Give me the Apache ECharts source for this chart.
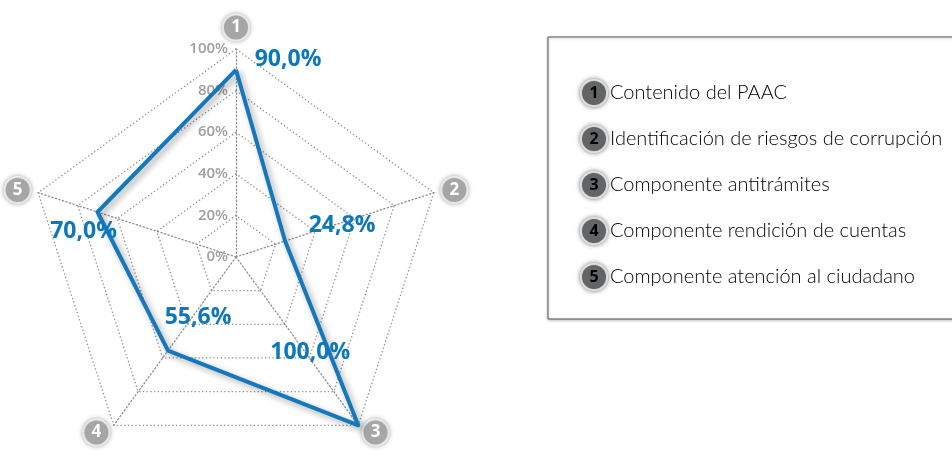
<!DOCTYPE html>
<html>
<head>
<meta charset="utf-8">
<script src="https://cdn.jsdelivr.net/npm/echarts@6/dist/echarts.min.js"></script>
<style>
  html, body { margin: 0; padding: 0; background: #fff; }
  #chart { width: 952px; height: 465px; }
</style>
</head>
<body>
<div id="chart"></div>
<script>
// Components of the plan, their badge numbers and compliance (%)
const categories = [
  'Contenido del PAAC',
  'Identificación de riesgos de corrupción',
  'Componente antitrámites',
  'Componente rendición de cuentas',
  'Componente atención al ciudadano'
];
const badges = ['1', '2', '3', '4', '5'];
const values = [90.0, 24.8, 100.0, 55.6, 70.0];
const axisMin = 0;
const axisMax = 100;
const axisSplits = 5;

// radar lays indicators out counter-clockwise; walk the list so 1..5 read clockwise
const order = [0, 4, 3, 2, 1];
const radarValues = order.map(i => values[i]);

// label placement for each value, relative to its vertex
const labelOffsets = [[52, -10], [57, -16], [-48, -73], [30, -33], [-14, 19]];

const fmtPct = v => v.toFixed(1).replace('.', ',') + '%';
const blue = '#0b77bd';
const dots = [1.3, 2.4];

const indicator = order.map((i, k) => {
  const ind = { name: badges[i], min: axisMin, max: axisMax };
  if (k === 0) {
    ind.axisLabel = {
      show: true,
      color: '#a0a0a0',
      fontSize: 15,
      fontWeight: 600,
      fontFamily: 'Open Sans',
      formatter: v => v + '%'
    };
  }
  return ind;
});

const chart = echarts.init(document.getElementById('chart'));

const labelItems = categories.map((c, i) => ({
  name: c,
  value: radarValues,
  symbol: 'circle',
  symbolSize: 1,
  itemStyle: { color: 'rgba(0,0,0,0)', borderWidth: 0 },
  lineStyle: { width: 0, opacity: 0 },
  label: {
    show: true,
    position: 'inside',
    offset: labelOffsets[i],
    color: blue,
    fontSize: 23,
    fontWeight: 'bold',
    fontFamily: 'Open Sans',
    formatter: p => (Math.abs(p.value - values[i]) < 1e-9 ? fmtPct(p.value) : '')
  }
}));

const legendTexts = categories.map((c, i) => ({
  type: 'text',
  left: 580,
  top: 79 + i * 46,
  style: {
    text: '{b|' + badges[i] + '}{t|' + c + '}',
    rich: {
      b: {
        width: 24, height: 24, lineHeight: 24, align: 'center',
        backgroundColor: '#636466', borderColor: '#fff', borderWidth: 2, borderRadius: 14,
        color: '#fff', fontSize: 16, fontWeight: 'bold', fontFamily: 'Open Sans',
        shadowColor: 'rgba(0,0,0,0.45)', shadowBlur: 5
      },
      t: {
        color: '#5d5e60', fontSize: 20, fontWeight: 300, fontFamily: 'Lato', padding: [0, 0, 0, 4]
      }
    }
  }
}));

chart.setOption({
  animation: false,
  radar: {
    center: [236, 257],
    radius: 208,
    startAngle: 90,
    shape: 'polygon',
    splitNumber: axisSplits,
    indicator: indicator,
    nameGap: 9,
    axisName: {
      formatter: n => '{b|' + n + '}',
      rich: {
        b: {
          width: 24, height: 24, lineHeight: 24, align: 'center',
          backgroundColor: '#a6a6a6', borderColor: '#fff', borderWidth: 2, borderRadius: 14,
          color: '#fff', fontSize: 17, fontWeight: 'bold', fontFamily: 'Open Sans',
          shadowColor: 'rgba(0,0,0,0.3)', shadowBlur: 5
        }
      }
    },
    axisLabel: { show: false },
    axisTick: { show: false },
    axisLine: { lineStyle: { color: '#8f8f8f', type: dots, width: 1.3 } },
    splitLine: { lineStyle: { color: '#8f8f8f', type: dots, width: 1.3 } },
    splitArea: { show: false }
  },
  series: [
    {
      type: 'radar',
      silent: true,
      symbol: 'none',
      data: [{
        name: 'Cumplimiento',
        value: radarValues,
        lineStyle: {
          color: '#1578bd', width: 4,
          shadowColor: 'rgba(0,0,0,0.35)', shadowBlur: 6, shadowOffsetX: 3, shadowOffsetY: 3
        }
      }]
    },
    {
      type: 'radar',
      silent: true,
      data: labelItems
    }
  ],
  graphic: [
    {
      type: 'rect',
      shape: { x: 548, y: 37, width: 430, height: 282 },
      style: { fill: '#fff', stroke: '#555', lineWidth: 1, shadowColor: 'rgba(0,0,0,0.25)', shadowBlur: 3, shadowOffsetY: 1 }
    },
    ...legendTexts
  ]
});
</script>
</body>
</html>
